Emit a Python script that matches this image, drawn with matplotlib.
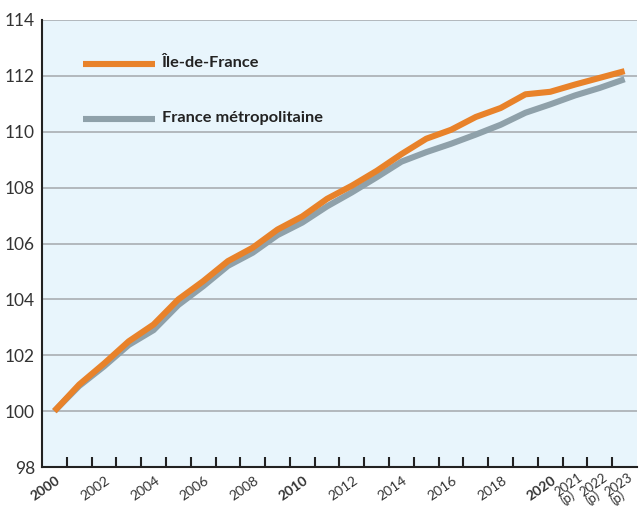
import matplotlib.pyplot as plt
import matplotlib.transforms as mtransforms

# indice base 100 en 2000
years = list(range(2000, 2024))
idf = [100.0, 100.95, 101.7, 102.5, 103.1, 104.0, 104.65, 105.37, 105.85, 106.5,
       106.97, 107.6, 108.07, 108.6, 109.2, 109.75, 110.07, 110.53, 110.85, 111.34,
       111.43, 111.69, 111.93, 112.17]
france = [100.0, 100.9, 101.6, 102.37, 102.9, 103.8, 104.47, 105.2, 105.67, 106.3,
          106.75, 107.33, 107.83, 108.37, 108.93, 109.27, 109.57, 109.9, 110.25, 110.68,
          110.98, 111.3, 111.57, 111.88]
tick_labels = ["2000", "2002", "2004", "2006", "2008", "2010", "2012", "2014", "2016",
               "2018", "2020", "2021\n(p)", "2022\n(p)", "2023\n(p)"]
bold_labels = ["2000", "2010", "2020"]
label_names = ["Île-de-France", "France métropolitaine"]

orange = "#E8822A"
grey = "#8FA1AA"

plt.rcParams['font.family'] = ['Lato', 'DejaVu Sans']

fig = plt.figure(figsize=(6.39, 5.07), dpi=100)
fig.patch.set_facecolor("white")
ax = fig.add_axes([42 / 639, 40 / 507, 595 / 639, 447 / 507])
ax.set_facecolor("#E8F5FC")

x = list(range(len(years)))
ax.plot(x, france, color=grey, lw=4.4, solid_capstyle="butt", zorder=3)
ax.plot(x, idf, color=orange, lw=4.4, solid_capstyle="butt", zorder=4)

ax.set_xlim(-0.5, len(years) - 0.5)
ax.set_ylim(98, 114)
ax.set_yticks(range(98, 115, 2))
ax.tick_params(axis="y", length=0, labelsize=12.5, labelcolor="#333333", pad=5)
ax.grid(axis="y", color="#A9AEB2", lw=1.2)
ax.set_axisbelow(True)

# ticks between categories
ax.set_xticks([i + 0.5 for i in range(len(years) - 1)], minor=True)
ax.tick_params(axis="x", which="minor", direction="in", length=7, width=1.5, color="#222222")
ax.set_xticks([])

# year labels drawn by hand so the (p) ones can sit a bit higher
for t in tick_labels:
    pos = years.index(int(t[:4]))
    if "\n" in t:
        tr = mtransforms.offset_copy(ax.get_xaxis_transform(), fig=fig, x=3, y=-4, units="dots")
        fs = 9.5
    else:
        tr = mtransforms.offset_copy(ax.get_xaxis_transform(), fig=fig, x=1, y=-7, units="dots")
        fs = 10
    ax.text(pos, 0, t, transform=tr, rotation=35, ha="right", va="top",
            rotation_mode="anchor", multialignment="left", linespacing=0.8,
            fontsize=fs, color="#333333",
            fontweight="bold" if t in bold_labels else "normal", clip_on=False)

for s in ["top", "right"]:
    ax.spines[s].set_visible(False)
ax.spines["left"].set_color("#222222")
ax.spines["bottom"].set_color("#222222")
ax.spines["left"].set_linewidth(1.5)
ax.spines["bottom"].set_linewidth(1.5)

# legende
for name, col, yv in [(label_names[0], orange, 112.41), (label_names[1], grey, 110.44)]:
    ax.plot([1.15, 4.05], [yv, yv], color=col, lw=4.4, solid_capstyle="butt", zorder=5)
    ax.text(4.33, yv + 0.05, name, fontsize=11.8, fontweight="bold", color="#222222",
            va="center", ha="left", zorder=5)

fig.savefig("out.png", dpi=100)
